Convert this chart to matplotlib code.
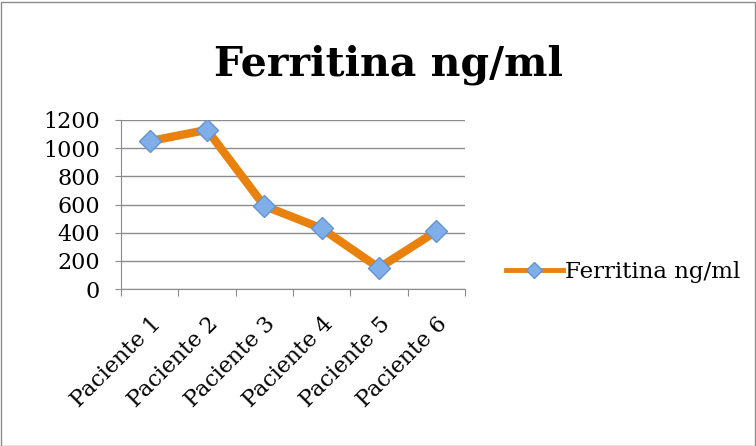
import matplotlib.pyplot as plt
from matplotlib.lines import Line2D
from matplotlib.patches import Rectangle

pacientes = ["Paciente 1", "Paciente 2", "Paciente 3", "Paciente 4", "Paciente 5", "Paciente 6"]
ferritina = [1050, 1130, 590, 430, 150, 410]
y_ticks = [0, 200, 400, 600, 800, 1000, 1200]

plt.rcParams["font.family"] = ["DejaVu Serif"]

orange = "#E8820C"
fig = plt.figure(figsize=(7.56, 4.46), dpi=100)
ax = fig.add_axes([121 / 756, 1 - 289 / 446, (465 - 121) / 756, (289 - 120) / 446])

x = list(range(len(pacientes)))
ax.plot(x, ferritina, color=orange, lw=6, solid_joinstyle="miter",
        marker="D", ms=11.5, mfc="#80AEE8", mec="#6494D0", mew=1, zorder=3)

ax.set_xlim(-0.5, len(pacientes) - 0.5)
ax.set_ylim(0, 1200)
ax.set_yticks(y_ticks)
ax.set_yticklabels([str(v) for v in y_ticks], fontsize=16)
ax.yaxis.grid(True, color="#8C8C8C", lw=1)
ax.set_axisbelow(True)

# category ticks sit between the points, labels at the centres
ax.set_xticks([i - 0.5 for i in range(len(pacientes) + 1)])
ax.set_xticklabels([])
ax.set_xticks(x, minor=True)
ax.set_xticklabels(pacientes, minor=True, rotation=45, ha="right",
                   rotation_mode="anchor", fontsize=16)
ax.tick_params(axis="x", which="major", length=5, color="#8C8C8C", direction="out")
ax.tick_params(axis="x", which="minor", length=0, pad=17)
ax.tick_params(axis="y", length=4, color="#8C8C8C", pad=11)

for side in ["top", "right"]:
    ax.spines[side].set_visible(False)
ax.spines["left"].set_color("#8C8C8C")
ax.spines["bottom"].set_color("#8C8C8C")

fig.text(388 / 756, 1 - 65 / 446, "Ferritina ng/ml", ha="center", va="center",
         fontsize=29.5, fontweight="bold")

handle = Line2D([], [], color=orange, lw=3.5, marker="D", ms=8,
                mfc="#80AEE8", mec="#6494D0", mew=1)
fig.legend([handle], ["Ferritina ng/ml"], loc="center left",
           bbox_to_anchor=(485 / 756, 1 - 272 / 446),
           frameon=False, fontsize=16.5, handlelength=2.5, handletextpad=0.1)

fig.patches.append(Rectangle((0.5 / 756, 0.5 / 446), 754 / 756, 444 / 446,
                             transform=fig.transFigure, fill=False,
                             ec="#8C8C8C", lw=1))

fig.savefig("out.png", dpi=100)
